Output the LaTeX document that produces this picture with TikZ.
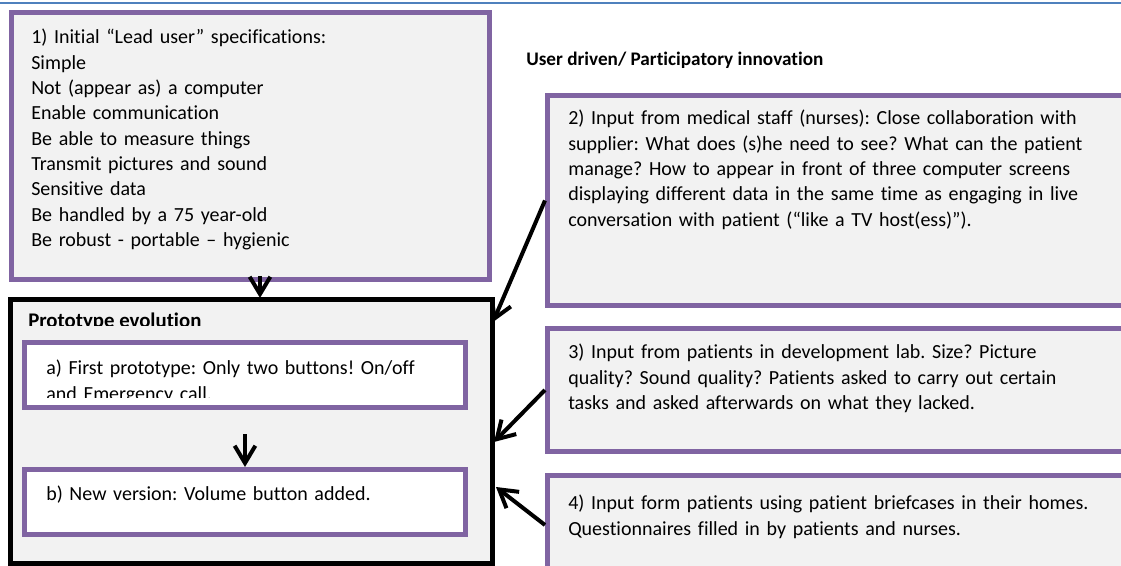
\documentclass[tikz,border=0pt]{standalone}
\usepackage{fontspec}
\setmainfont{Carlito}[Ligatures={TeX,NoCommon}]
\usetikzlibrary{arrows.meta,fit}
\definecolor{purp}{HTML}{8064A2}
\definecolor{boxgray}{HTML}{F2F2F2}
\definecolor{toprule}{HTML}{4F81BD}
\frenchspacing
\begin{document}
\frenchspacing
\begin{tikzpicture}[x=0.75pt,y=-0.75pt,
  pbox/.style={draw=purp, line width=3.4pt, fill=boxgray, inner sep=0pt},
  wbox/.style={draw=purp, line width=3.4pt, fill=white, inner sep=0pt},
  kbox/.style={draw=black, line width=3.4pt, fill=boxgray, inner sep=0pt},
  txt/.style={anchor=north west, inner sep=0pt, align=left, text width=560pt,
              font=\fontsize{15}{19}\selectfont\frenchspacing},
  ttl/.style={anchor=base west, inner sep=0pt, font=\fontsize{15}{19}\selectfont\bfseries},
  arr/.style={line width=3pt, -{Straight Barb[length=13pt,width=15.5pt]}}]
\clip (0,0) rectangle (1121,566);
\fill[white] (0,0) rectangle (1121,566);
\draw[toprule, line width=1.5pt] (0,3) -- (1121,3);

% boxes
\node[pbox, fit={(11.25,12.25) (489.75,279.75)}] (b1) {};
\node[kbox, fit={(10.25,299.25) (492.75,563.75)}] (proto) {};
\node[wbox, fit={(24.25,342.25) (465.75,407.75)}] (ba) {};
\node[wbox, fit={(24.25,469.25) (465.75,534.75)}] (bb) {};
\node[pbox, fit={(547.25,95.25) (1150,305.75)}] (b2) {};
\node[pbox, fit={(547.25,328.25) (1150,451.75)}] (b3) {};
\node[pbox, fit={(547.25,475.25) (1150,574.75)}] (b4) {};

% texts
\node[txt] (t1) at (31,25.8) {\strut 1) Initial “Lead user” specifications:\\
Simple\\
Not (appear as) a computer\\
Enable communication\\
Be able to measure things\\
Transmit pictures and sound\\
Sensitive data\\
Be handled by a 75 year-old\\
Be robust - portable – hygienic};

\node[ttl, font=\fontsize{14.4}{19}\selectfont\bfseries] (ud) at (526,66) {User driven/ Participatory innovation};

\node[txt] (t2) at (568,106.8) {\strut 2) Input from medical staff (nurses): Close collaboration with\\
supplier: What does (s)he need to see? What can the patient\\
manage? How to appear in front of three computer screens\\
displaying different data in the same time as engaging in live\\
conversation with patient (“like a TV host(ess)”).};

\node[txt] (t3) at (568,340.8) {\strut 3) Input from patients in development lab. Size? Picture\\
quality? Sound quality? Patients asked to carry out certain\\
tasks and asked afterwards on what they lacked.};

\node[txt] (t4) at (568,491.8) {\strut 4) Input form patients using patient briefcases in their homes.\\
Questionnaires filled in by patients and nurses.};

\begin{scope}
\clip (0,0) rectangle (1121,325.5);
\node[ttl, font=\fontsize{15.6}{19}\selectfont\bfseries] (pt) at (28,327.5) {Prototype evolution};
\end{scope}

\begin{scope}
\clip (0,0) rectangle (1121,397.5);
\node[txt] (ta) at (46,356.8) {\strut a) First prototype: Only two buttons! On/off\\
and Emergency call.};
\end{scope}

\node[txt] (tb) at (46,482.8) {\strut b) New version: Volume button added.};

% connectors
\coordinate (c2) at (493,322);
\coordinate (c3) at (494,442);
\coordinate (c4) at (496,487);
\coordinate (c1s) at (260,276);
\coordinate (c1e) at (260,298);
\draw[arr] (c1s) -- (c1e);
\draw[arr, shorten <=18pt] (ba.south) -- (bb.north);
\draw[arr] (b2.west) -- (c2);
\draw[arr] (b3.west) -- (c3);
\draw[arr] (b4.west) -- (c4);
\end{tikzpicture}
\end{document}
